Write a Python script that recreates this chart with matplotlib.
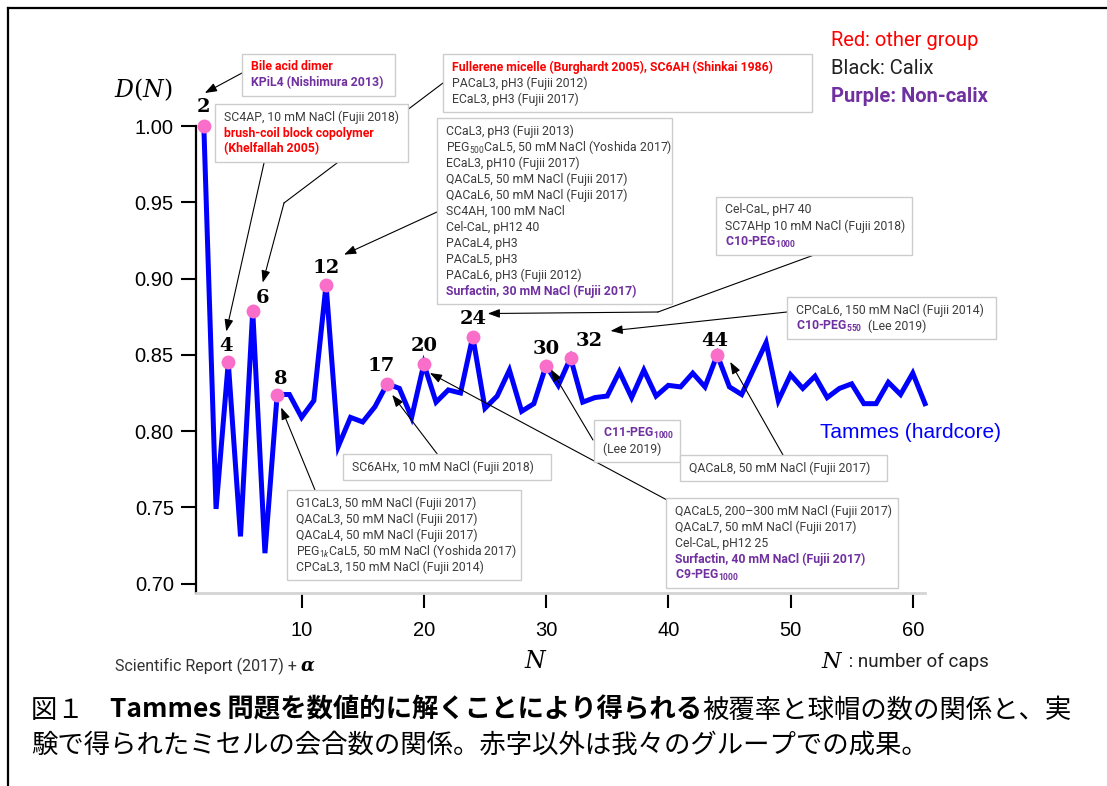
import matplotlib.pyplot as plt
import matplotlib.transforms as mtransforms
from matplotlib.patches import Rectangle
from matplotlib.lines import Line2D
from matplotlib.text import Annotation

W, H = 1107, 786

# Tammes (hardcore) packing density D(N) for N = 2..61
n_caps = list(range(2, 62))
density = [1.000, 0.749, 0.845, 0.731, 0.879, 0.720, 0.824, 0.824, 0.809, 0.820,
           0.896, 0.790, 0.809, 0.806, 0.816, 0.831, 0.828, 0.809, 0.844, 0.819,
           0.827, 0.825, 0.862, 0.815, 0.823, 0.840, 0.813, 0.818, 0.843, 0.830,
           0.848, 0.819, 0.822, 0.823, 0.839, 0.822, 0.840, 0.823, 0.830, 0.829,
           0.838, 0.829, 0.850, 0.829, 0.824, 0.841, 0.858, 0.820, 0.837, 0.828,
           0.836, 0.822, 0.828, 0.831, 0.818, 0.818, 0.832, 0.824, 0.838, 0.818]
observed_n = [2, 4, 6, 8, 12, 17, 20, 24, 30, 32, 44]
y_ticks = [0.70, 0.75, 0.80, 0.85, 0.90, 0.95, 1.00]
x_ticks = [10, 20, 30, 40, 50, 60]

# pixel offsets of the number labels above each observed point
label_offsets = {2: (0, 19), 4: (-2, 16), 6: (10, 13), 8: (4, 16), 12: (0, 17),
                 17: (-6, 18), 20: (0, 18), 24: (0, 18), 30: (0, 17),
                 32: (19, 17), 44: (-2, 14)}

GRAY, RED, PURPLE = 'g', 'r', 'p'
styles = {GRAY: dict(color='#3c3c3c', fontweight='normal'),
          RED: dict(color='#ff0000', fontweight='bold'),
          PURPLE: dict(color='#7030a0', fontweight='bold')}

# annotation boxes: (left, top, width, lines); each line is a list of (text, style)
boxes = {
    'A': (242, 54, 153, [[('Bile acid dimer', RED)],
                         [('KPiL4 (Nishimura 2013)', PURPLE)]]),
    'C': (443, 54, 369, [[('Fullerene micelle (Burghardt 2005), SC6AH (Shinkai 1986)', RED)],
                         [('PACaL3, pH3 (Fujii 2012)', GRAY)],
                         [('ECaL3, pH3 (Fujii 2017)', GRAY)]]),
    'B': (215, 104, 193, [[('SC4AP, 10 mM NaCl (Fujii 2018)', GRAY)],
                          [('brush-coil block copolymer', RED)],
                          [('(Khelfallah 2005)', RED)]]),
    'D': (437, 118, 235, [[('CCaL3, pH3 (Fujii 2013)', GRAY)],
                          [('PEG$_{500}$CaL5, 50 mM NaCl (Yoshida 2017)', GRAY)],
                          [('ECaL3, pH10 (Fujii 2017)', GRAY)],
                          [('QACaL5, 50 mM NaCl (Fujii 2017)', GRAY)],
                          [('QACaL6, 50 mM NaCl (Fujii 2017)', GRAY)],
                          [('SC4AH, 100 mM NaCl', GRAY)],
                          [('Cel-CaL, pH12 40', GRAY)],
                          [('PACaL4, pH3', GRAY)],
                          [('PACaL5, pH3', GRAY)],
                          [('PACaL6, pH3 (Fujii 2012)', GRAY)],
                          [('Surfactin, 30 mM NaCl (Fujii 2017)', PURPLE)]]),
    'E': (716, 197, 196, [[('Cel-CaL, pH7 40', GRAY)],
                          [('SC7AHp 10 mM NaCl (Fujii 2018)', GRAY)],
                          [('C10-PEG$_{\\mathbf{1000}}$', PURPLE)]]),
    'F': (787, 297, 209, [[('CPCaL6, 150 mM NaCl (Fujii 2014)', GRAY)],
                          [('C10-PEG$_{\\mathbf{550}}$', PURPLE), ('  (Lee 2019)', GRAY)]]),
    'G': (594, 420, 86, [[('C11-PEG$_{\\mathbf{1000}}$', PURPLE)],
                         [('(Lee 2019)', GRAY)]]),
    'H': (343, 454, 208, [[('SC6AHx, 10 mM NaCl (Fujii 2018)', GRAY)]]),
    'K': (680, 455, 207, [[('QACaL8, 50 mM NaCl (Fujii 2017)', GRAY)]]),
    'I': (287, 490, 234, [[('G1CaL3, 50 mM NaCl (Fujii 2017)', GRAY)],
                          [('QACaL3, 50 mM NaCl (Fujii 2017)', GRAY)],
                          [('QACaL4, 50 mM NaCl (Fujii 2017)', GRAY)],
                          [('PEG$_{1k}$CaL5, 50 mM NaCl (Yoshida 2017)', GRAY)],
                          [('CPCaL3, 150 mM NaCl (Fujii 2014)', GRAY)]]),
    'J': (666, 498, 232, [[('QACaL5, 200\u2013300 mM NaCl (Fujii 2017)', GRAY)],
                          [('QACaL7, 50 mM NaCl (Fujii 2017)', GRAY)],
                          [('Cel-CaL, pH12 25', GRAY)],
                          [('Surfactin, 40 mM NaCl (Fujii 2017)', PURPLE)],
                          [('C9-PEG$_{\\mathbf{1000}}$', PURPLE)]]),
}

# arrows: target N, head offset from the point (px, +up), tail, optional bend points
arrows = [
    (2, (1, 33), (242, 73), []),
    (4, (-2, 31), (264, 163), []),
    (6, (10, 28), (284, 203), [(443, 83)]),
    (12, (18, 30), (437, 212), []),
    (24, (15, 23), (658, 312), [(814, 255)]),
    (32, (40, 27), (787, 312), []),
    (30, (5, -4), (593, 440), []),
    (17, (5, -11), (438, 455), []),
    (8, (4, -13), (315, 490), []),
    (20, (6, -9), (667, 500), []),
    (44, (13, -7), (783, 455), []),
]


def fx(x):
    return x / W


def fy(y):
    return 1 - y / H


plt.rcParams['font.family'] = ['Roboto', 'DejaVu Sans']
plt.rcParams['mathtext.fontset'] = 'custom'
plt.rcParams['mathtext.rm'] = 'Roboto'
plt.rcParams['mathtext.it'] = 'Roboto:italic'
plt.rcParams['mathtext.bf'] = 'Roboto:bold'

fig = plt.figure(figsize=(W / 100, H / 100), dpi=100)
ax = fig.add_axes([fx(196), fy(593), fx(925) - fx(196), fy(126) - fy(593)])

ax.plot(n_caps, density, color='#0000ff', lw=3.6, clip_on=False, zorder=3,
        solid_joinstyle='miter')
obs_d = [density[n_caps.index(n)] for n in observed_n]
ax.plot(observed_n, obs_d, 'o', ms=10, color='#f86ec8', mec='none',
        clip_on=False, zorder=4)
for n, d in zip(observed_n, obs_d):
    ax.annotate(str(n), xy=(n, d), xytext=label_offsets[n], textcoords='offset pixels',
                ha='center', va='center', fontsize=14, fontweight='bold',
                family='DejaVu Serif', annotation_clip=False)

ax.set_xlim(1.36, 61.0)
ax.set_ylim(0.6939, 1.0)
ax.set_xticks(x_ticks)
ax.set_yticks(y_ticks)
ax.set_yticklabels([f'{v:.2f}' for v in y_ticks])
for side in ('top', 'right'):
    ax.spines[side].set_visible(False)
ax.spines['left'].set_linewidth(1.6)
ax.spines['bottom'].set_color('#d4d4d4')
ax.spines['bottom'].set_linewidth(2)
ax.tick_params(axis='both', direction='out', length=11, width=1.5, color='black',
               labelsize=14.5, labelfontfamily='Liberation Sans')
ax.tick_params(axis='y', pad=5)
ax.tick_params(axis='x', pad=9)
ax.patch.set_alpha(0)

fig.text(fx(820), fy(433), 'Tammes (hardcore)', color='#0000ff',
         fontsize=15, family='Liberation Sans', ha='left', va='center')

# figure frame
fig.add_artist(Line2D([fx(8), fx(8)], [fy(8), 0], color='black', lw=1.6))
fig.add_artist(Line2D([fx(8), 1], [fy(8), fy(8)], color='black', lw=1.6))

fig.text(fx(143), fy(90), '$D(N)$', fontsize=17, ha='center', va='center',
         math_fontfamily='dejavuserif')
fig.text(fx(536), fy(661), '$N$', fontsize=17, ha='center', va='center',
         math_fontfamily='dejavuserif')
t = fig.text(fx(821), fy(662), '$N$', fontsize=16, ha='left', va='center',
             math_fontfamily='dejavuserif')
fig.add_artist(Annotation(' : number of caps', xy=(1, 0.5), xycoords=t, va='center',
                          fontsize=13.5, color='#222222'))
t = fig.text(fx(115), fy(666), 'Scientific Report (2017) + ', fontsize=11.5,
             color='#333333', ha='left', va='center')
fig.add_artist(Annotation('\u03b1', xy=(1, 0.5), xycoords=t, va='center', fontsize=13,
                          family='DejaVu Serif', fontweight='bold', style='italic'))

# group legend
fig.text(fx(831), fy(41), 'Red: other group', color='#ff0000', fontsize=14.5, va='center')
fig.text(fx(831), fy(68), 'Black: Calix', color='#222222', fontsize=14.5, va='center')
fig.text(fx(831), fy(97), 'Purple: Non-calix', color='#7030a0', fontsize=14.5,
         fontweight='bold', va='center')

# arrows from the boxes to the observed aggregation numbers
arrow_kw = dict(arrowstyle='-|>,head_length=0.6,head_width=0.22', color='black',
                lw=0.8, shrinkA=0, shrinkB=0, mutation_scale=12)
for n, (dx, dy), tail, bends in arrows:
    d = density[n_caps.index(n)]
    target = mtransforms.offset_copy(ax.transData, fig=fig, x=dx, y=dy, units='dots')
    fig.add_artist(Annotation('', xy=(n, d), xycoords=target,
                              xytext=(fx(tail[0]), fy(tail[1])),
                              textcoords='figure fraction', arrowprops=arrow_kw,
                              zorder=3))
    path = bends + [tail]
    for (x0, y0), (x1, y1) in zip(path[:-1], path[1:]):
        fig.add_artist(Line2D([fx(x0), fx(x1)], [fy(y0), fy(y1)], color='black',
                              lw=0.8, zorder=3))

# annotation boxes
for left, top, width, lines in boxes.values():
    h = 16 * len(lines) + 10
    fig.add_artist(Rectangle((fx(left), fy(top + h)), width / W, h / H,
                             transform=fig.transFigure, facecolor='white',
                             edgecolor='#cccccc', lw=1, zorder=5))
    for i, segs in enumerate(lines):
        y = top + 13 + 16 * i
        prev = None
        for text, style in segs:
            if prev is None:
                prev = fig.text(fx(left + 9), fy(y), text, fontsize=8.8, ha='left',
                                va='center', zorder=6, **styles[style])
            else:
                prev = fig.add_artist(Annotation(text, xy=(1, 0.5), xycoords=prev,
                                                 va='center', fontsize=8.8, zorder=6,
                                                 **styles[style]))

# caption
jp = ['Noto Sans CJK JP', 'DejaVu Sans']
t = fig.text(fx(31), fy(710), '図１\u3000', fontsize=19, family=jp, va='center')
t = fig.add_artist(Annotation('Tammes 問題を数値的に解くことにより得られる', xy=(1, 0.5),
                              xycoords=t, va='center', fontsize=19, family=jp,
                              fontweight='bold'))
fig.add_artist(Annotation('被覆率と球帽の数の関係と、実', xy=(1, 0.5), xycoords=t,
                          va='center', fontsize=19, family=jp))
fig.text(fx(31), fy(745), '験で得られたミセルの会合数の関係。赤字以外は我々のグループでの成果。',
         fontsize=19, family=jp, va='center')

fig.savefig('out.png', dpi=100)
